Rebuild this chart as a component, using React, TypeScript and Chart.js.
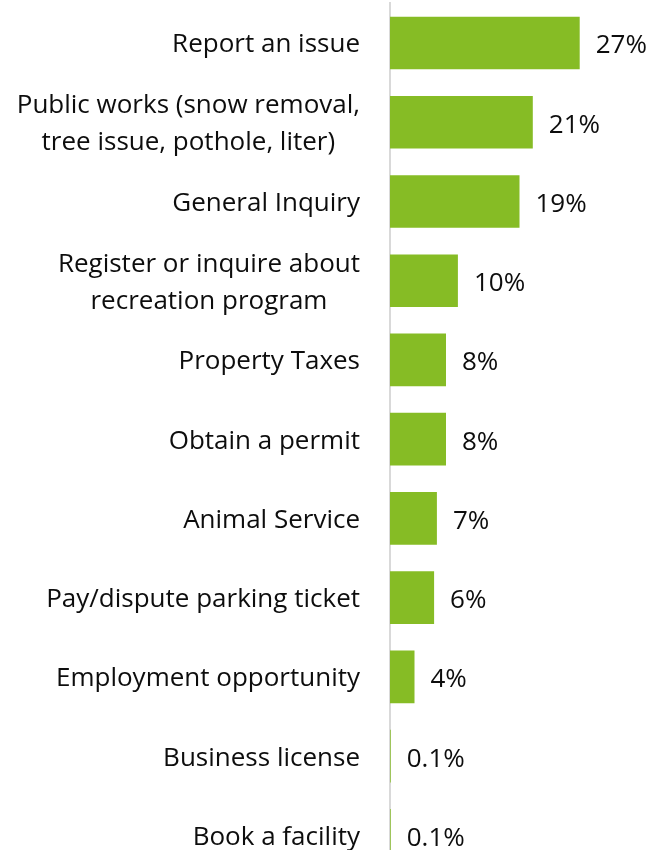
import React, { useEffect, useRef } from 'react';
import { Chart, registerables } from 'chart.js';

Chart.register(...registerables);

const categories: (string | string[])[] = [
  'Report an issue',
  ['Public works (snow removal,', 'tree issue, pothole, liter)'],
  'General Inquiry',
  ['Register or inquire about', 'recreation program'],
  'Property Taxes',
  'Obtain a permit',
  'Animal Service',
  'Pay/dispute parking ticket',
  'Employment opportunity',
  'Business license',
  'Book a facility',
];

const values = [27.1, 20.4, 18.5, 9.7, 8.0, 8.0, 6.7, 6.3, 3.5, 0.1, 0.1];

const valueLabels = ['27%', '21%', '19%', '10%', '8%', '8%', '7%', '6%', '4%', '0.1%', '0.1%'];

const FONT = '"Open Sans", "Noto Sans", sans-serif';
const FONT_SIZE = 26;
const LINE_H = 37;
const TEXT_COLOR = '#0d0d0d';
const BAR_COLOR = '#86bc25';

const labelPlugin = {
  id: 'customLabels',
  afterDatasetsDraw(chart: any) {
    const ctx = chart.ctx;
    const yScale = chart.scales.y;
    const meta = chart.getDatasetMeta(0);
    ctx.save();
    ctx.font = `${FONT_SIZE}px ${FONT}`;
    ctx.fillStyle = TEXT_COLOR;
    ctx.textBaseline = 'middle';
    categories.forEach((cat, i) => {
      const lines = Array.isArray(cat) ? cat : [cat];
      const cy = yScale.getPixelForTick(i) + 2;
      const widest = Math.max(...lines.map((l) => ctx.measureText(l).width));
      const right = yScale.right - 30;
      const cx = right - widest / 2;
      ctx.textAlign = 'center';
      lines.forEach((l, j) => {
        ctx.fillText(l, cx, cy + (j - (lines.length - 1) / 2) * LINE_H);
      });
    });
    ctx.textAlign = 'left';
    meta.data.forEach((bar: any, i: number) => {
      ctx.fillText(valueLabels[i], bar.x + 16, bar.y + 3);
    });
    ctx.restore();
  },
};

export default function App() {
  const ref = useRef<HTMLCanvasElement | null>(null);

  useEffect(() => {
    if (!ref.current) return;
    const chart = new Chart(ref.current, {
      type: 'bar',
      data: {
        labels: categories as any,
        datasets: [
          {
            data: values,
            backgroundColor: BAR_COLOR,
            borderWidth: 0,
            barPercentage: 0.665,
            categoryPercentage: 1,
          },
        ],
      },
      options: {
        indexAxis: 'y',
        responsive: false,
        animation: false,
        layout: { padding: { top: 3.4, right: 51, bottom: 0, left: 0 } },
        plugins: {
          legend: { display: false },
          tooltip: { enabled: false },
        },
        scales: {
          x: { display: false, min: 0, max: 30 },
          y: {
            grid: { display: false, drawTicks: false },
            border: { display: true, color: '#d9d9d9', width: 2 },
            ticks: { display: false },
            afterFit: (scale: any) => {
              scale.width = 390;
            },
          },
        },
      },
      plugins: [labelPlugin],
    });
    return () => chart.destroy();
  }, []);

  return (
    <div
      style={{
        position: 'fixed',
        left: 0,
        top: 0,
        width: 651,
        height: 850,
        overflow: 'hidden',
        background: '#ffffff',
      }}
    >
      <canvas ref={ref} width={651} height={875} style={{ width: 651, height: 875, display: 'block' }} />
    </div>
  );
}
